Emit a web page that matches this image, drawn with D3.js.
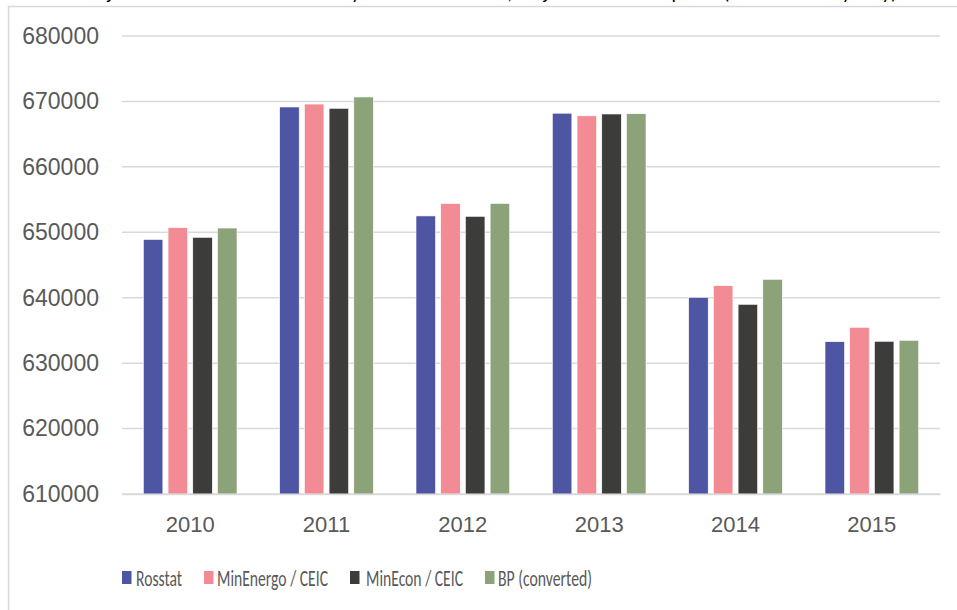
<!DOCTYPE html>
<html>
<head>
<meta charset="utf-8">
<script src="https://cdn.jsdelivr.net/npm/d3@7"></script>
<style>
  body { margin: 0; background: #fff; }
  svg { display: block; font-family: Carlito, Calibri, "Liberation Sans Narrow", "Open Sans", sans-serif; }
</style>
</head>
<body>
<svg id="chart"></svg>
<script>
// Chart data
const years = ["2010", "2011", "2012", "2013", "2014", "2015"];
const seriesNames = ["Rosstat", "MinEnergo / CEIC", "MinEcon / CEIC", "BP (converted)"];
const seriesColors = ["#4e55a3", "#f28b93", "#3c3c3a", "#8ca37a"];
const rosstat   = [648900, 669150, 652500, 668200, 640060, 633280];
const minEnergo = [650700, 669600, 654400, 667800, 641840, 635480];
const minEcon   = [649230, 668950, 652440, 668080, 638990, 633340];
const bp        = [650650, 670680, 654400, 668120, 642810, 633490];
const yTicks = [610000, 620000, 630000, 640000, 650000, 660000, 670000, 680000];

const seriesValues = [rosstat, minEnergo, minEcon, bp];

const width = 957, height = 610;
const plot = {left: 122, right: 940, top: 36, bottom: 494};

const svg = d3.select("#chart")
  .attr("width", width)
  .attr("height", height);

// title line, cut off at the top edge as in the source image
svg.append("text")
  .attr("x", 12)
  .attr("y", -1)
  .attr("font-size", 20)
  .attr("fill", "#000")
  .text("Chart 1. Major estimates of total electricity demand in Russia, Major sources compared (thousand toe yearly)");

// outer frame
svg.append("rect")
  .attr("x", 8.5)
  .attr("y", 6.5)
  .attr("width", width + 10)
  .attr("height", height + 10)
  .attr("fill", "none")
  .attr("stroke", "#d9d9d9")
  .attr("stroke-width", 1.5);

// scales
const x0 = d3.scaleBand()
  .domain(years)
  .range([plot.left, plot.right])
  .paddingInner(0.313)
  .paddingOuter(0.1565);

const x1 = d3.scaleBand()
  .domain(seriesNames)
  .range([0, x0.bandwidth()])
  .paddingInner(0.21);

const y = d3.scaleLinear()
  .domain([610000, 680000])
  .range([plot.bottom, plot.top]);

// gridlines
svg.append("g")
  .selectAll("line")
  .data(yTicks)
  .join("line")
  .attr("x1", plot.left)
  .attr("x2", plot.right)
  .attr("y1", d => y(d))
  .attr("y2", d => y(d))
  .attr("stroke", "#d9d9d9")
  .attr("stroke-width", 1.5);

// y axis labels
const yAxis = svg.append("g")
  .attr("transform", `translate(${plot.left - 23},0)`)
  .call(d3.axisLeft(y).tickValues(yTicks).tickSize(0).tickPadding(0).tickFormat(d3.format("d")));
yAxis.select(".domain").remove();
yAxis.selectAll("text")
  .attr("font-family", "inherit")
  .attr("font-size", 23)
  .attr("fill", "#595959");

// bars
const groups = svg.append("g")
  .selectAll("g")
  .data(years)
  .join("g")
  .attr("transform", d => `translate(${x0(d)},0)`);

groups.selectAll("rect")
  .data((d, i) => seriesNames.map((s, k) => ({series: s, k: k, value: seriesValues[k][i]})))
  .join("rect")
  .attr("x", d => x1(d.series))
  .attr("width", x1.bandwidth())
  .attr("y", d => y(d.value))
  .attr("height", d => y(610000) - y(d.value))
  .attr("fill", d => seriesColors[d.k])
  .attr("stroke", "#fff")
  .attr("stroke-width", 0.6);

// x axis
const xAxis = svg.append("g")
  .attr("transform", `translate(0,${plot.bottom})`)
  .call(d3.axisBottom(x0).tickSize(0).tickPadding(22));
xAxis.select(".domain")
  .attr("stroke", "#d9d9d9")
  .attr("stroke-width", 1.5);
xAxis.selectAll("text")
  .attr("font-family", "inherit")
  .attr("font-size", 22)
  .attr("fill", "#595959");

// legend (text widths squeezed to match the narrow source lettering)
const legendX = [122, 204, 350, 485];
const legendTextX = [14, 13, 16, 13];
const legendTextW = [46, 111, 97, 94];
const legend = svg.append("g")
  .selectAll("g")
  .data(seriesNames)
  .join("g")
  .attr("transform", (d, i) => `translate(${legendX[i]},571)`);

legend.append("rect")
  .attr("width", 9.5)
  .attr("height", 13)
  .attr("fill", (d, i) => seriesColors[i]);

legend.append("text")
  .attr("x", (d, i) => legendTextX[i])
  .attr("y", 7)
  .attr("dy", "0.35em")
  .attr("font-size", 22)
  .attr("fill", "#595959")
  .attr("textLength", (d, i) => legendTextW[i])
  .attr("lengthAdjust", "spacingAndGlyphs")
  .text(d => d);
</script>
</body>
</html>
